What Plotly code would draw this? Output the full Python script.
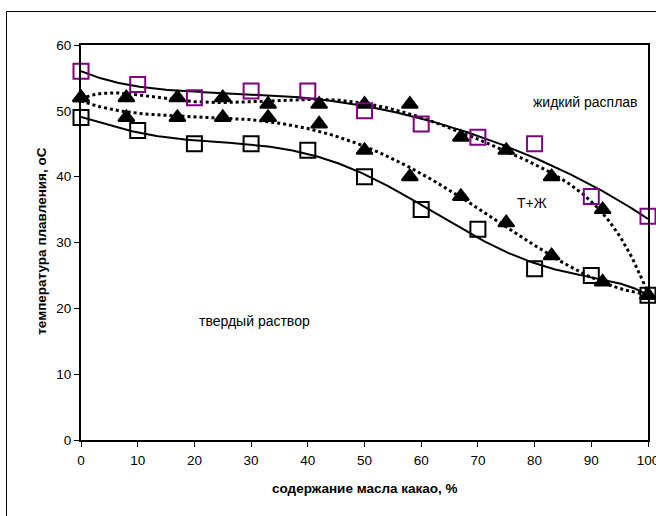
import numpy as np
import plotly.graph_objects as go

# ---- data ----
x_sq = [0, 10, 20, 30, 40, 50, 60, 70, 80, 90, 100]
liquidus_sq = [56, 54, 52, 53, 53, 50, 48, 46, 45, 37, 34]
solidus_sq = [49, 47, 45, 45, 44, 40, 35, 32, 26, 25, 22]

x_tr = [0, 8, 17, 25, 33, 42, 50, 58, 67, 75, 83, 92, 100]
upper_tr = [52, 52, 52, 52, 51, 51, 51, 51, 46, 44, 40, 35, 22]
lower_tr = [52, 49, 49, 49, 49, 48, 44, 40, 37, 33, 28, 24, 22]

x_ticks = [0, 10, 20, 30, 40, 50, 60, 70, 80, 90, 100]
y_ticks = [0, 10, 20, 30, 40, 50, 60]

FONT = "Liberation Sans, Arial, sans-serif"
TICK_SIZE = 13.5
TEXT_SIZE = 14

# plot-area pixel geometry
L, R, T, B = 81, 648, 45, 440.5
W, H = 656, 516


def trend(x, y, deg):
    xs = np.linspace(min(x), max(x), 301)
    c = np.polyfit(np.array(x, float), np.array(y, float), deg)
    return xs, np.polyval(c, xs)


fig = go.Figure()

# polynomial trendlines (as in the original spreadsheet chart)
for x, y, deg, dash, w in [
    (x_sq, liquidus_sq, 5, "solid", 2),
    (x_sq, solidus_sq, 6, "solid", 2),
    (x_tr, upper_tr, 6, "dot", 3),
    (x_tr, lower_tr, 4, "dot", 3),
]:
    xs, ys = trend(x, y, deg)
    fig.add_trace(go.Scatter(x=xs, y=ys, mode="lines",
                             line=dict(color="black", width=w, dash=dash),
                             hoverinfo="skip", showlegend=False, cliponaxis=False))

# markers
for x, y, sym, size, col in [
    (x_tr, upper_tr, "triangle-up", 14, "black"),
    (x_tr, lower_tr, "triangle-up", 14, "black"),
    (x_sq, liquidus_sq, "square-open", 15, "#800080"),
    (x_sq, solidus_sq, "square-open", 15, "black"),
]:
    fig.add_trace(go.Scatter(x=x, y=y, mode="markers", cliponaxis=False,
                             marker=dict(symbol=sym, size=size, color=col,
                                         line=dict(width=2, color=col)),
                             showlegend=False))

axis_common = dict(showgrid=False, zeroline=False, showline=True, linecolor="black",
                   linewidth=2, mirror=True, ticks="outside", ticklen=5,
                   tickwidth=1, tickcolor="black", ticklabeloverflow="allow",
                   automargin=False,
                   tickfont=dict(family=FONT, size=TICK_SIZE, color="black"))

fig.update_xaxes(range=[0, 100], tickvals=x_ticks, ticktext=[str(v) for v in x_ticks],
                 ticklabelstandoff=2, **axis_common)
fig.update_yaxes(range=[0, 60], tickvals=y_ticks, ticktext=[str(v) for v in y_ticks],
                 **axis_common)

fig.update_layout(
    width=W, height=H,
    margin=dict(l=L, r=W - R, t=T, b=H - B, autoexpand=False),
    paper_bgcolor="white", plot_bgcolor="white",
    font=dict(family=FONT, size=TEXT_SIZE, color="black"),
)


def px_to_x(px):
    return (px - L) / (R - L) * 100


def py_to_y(py):
    return (B - py) / (B - T) * 60


def px_to_paper(px):
    return (px - L) / (R - L)


def py_to_paper(py):
    return (B - py) / (B - T)


for txt, cx, cy in [("жидкий расплав", 585, 102),
                    ("Т+Ж", 532, 203),
                    ("твердый раствор", 254, 321)]:
    fig.add_annotation(text=txt, x=px_to_x(cx), y=py_to_y(cy), xref="x", yref="y",
                       xanchor="center", yanchor="middle", showarrow=False,
                       font=dict(family=FONT, size=TEXT_SIZE, color="black"))

fig.add_annotation(text="<b>содержание масла какао, %</b>", x=px_to_paper(365),
                   y=py_to_paper(489), xref="paper", yref="paper", showarrow=False,
                   xanchor="center", yanchor="middle",
                   font=dict(family=FONT, size=TEXT_SIZE - 0.5, color="black"))
fig.add_annotation(text="<b>температура плавления, оС</b>", x=px_to_paper(42),
                   y=py_to_paper(242), xref="paper", yref="paper", showarrow=False,
                   textangle=-90, xanchor="center", yanchor="middle",
                   font=dict(family=FONT, size=TEXT_SIZE - 0.5, color="black"))

# outer chart frame
fig.add_shape(type="rect", xref="paper", yref="paper",
              x0=px_to_paper(6.5), x1=px_to_paper(665),
              y0=py_to_paper(530), y1=py_to_paper(11.5),
              line=dict(color="black", width=1), fillcolor="rgba(0,0,0,0)", layer="below")

fig.write_html("out.html")
